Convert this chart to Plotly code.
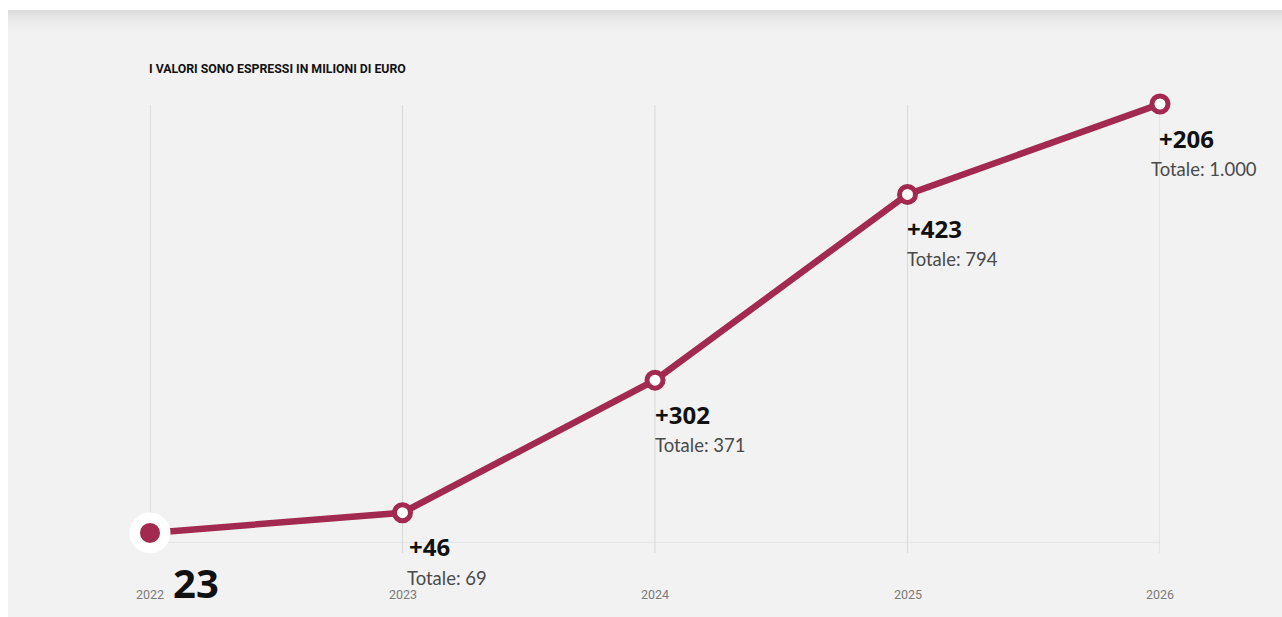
import plotly.graph_objects as go

years = [2022, 2023, 2024, 2025, 2026]
tick_labels = ["2022", "2023", "2024", "2025", "2026"]
totals = [23, 69, 371, 794, 1000]
deltas = ["+46", "+302", "+423", "+206"]
total_labels = ["Totale: 69", "Totale: 371", "Totale: 794", "Totale: 1.000"]
title_text = "I VALORI SONO ESPRESSI IN MILIONI DI EURO"

LINE = "#a2294f"
W, H = 1282, 617
L, R, T, B = 150, 122, 104, 74
PH = H - T - B

def py(pix):
    return (H - B - pix) / PH

def px(pix):
    return (pix - L) / (W - L - R)

fig = go.Figure()

fig.add_trace(go.Scatter(
    x=years, y=totals, mode="lines",
    line=dict(color=LINE, width=6.5), hoverinfo="skip", cliponaxis=False))
fig.add_trace(go.Scatter(
    x=years[1:], y=totals[1:], mode="markers",
    marker=dict(size=16, color="white", line=dict(color=LINE, width=5)),
    cliponaxis=False, hoverinfo="skip"))
fig.add_trace(go.Scatter(
    x=years[:1], y=totals[:1], mode="markers",
    marker=dict(size=41, color="white", line=dict(width=0)),
    cliponaxis=False, hoverinfo="skip"))
fig.add_trace(go.Scatter(
    x=years[:1], y=totals[:1], mode="markers",
    marker=dict(size=20, color=LINE, line=dict(width=0)),
    cliponaxis=False, hoverinfo="skip"))

shapes = []
# grey panel
shapes.append(dict(type="rect", xref="paper", yref="paper", layer="below",
                   x0=px(8), x1=px(W + 5), y0=py(H + 5), y1=py(10),
                   fillcolor="#f2f2f2", line=dict(width=0)))
# top shadow gradient
shade = ["#dcdcdc", "#e0e0e0", "#e3e3e3", "#e6e6e6", "#e8e8e8", "#eaeaea",
         "#ececec", "#eeeeee", "#efefef", "#f0f0f0", "#f1f1f1"]
for i, c in enumerate(shade):
    shapes.append(dict(type="rect", xref="paper", yref="paper", layer="below",
                       x0=px(8), x1=px(W + 5), y0=py(12 + 2 * i), y1=py(10 + 2 * i),
                       fillcolor=c, line=dict(width=0)))
# vertical gridlines
for i, yr in enumerate(years):
    shapes.append(dict(type="line", xref="x", yref="paper", layer="below",
                       x0=yr, x1=yr, y0=py(553), y1=py(105),
                       line=dict(color="#c8c8c8" if i == 0 else "#d9d9d9", width=1)))
# baseline
shapes.append(dict(type="line", xref="x", yref="y", layer="below",
                   x0=years[0], x1=years[-1], y0=0, y1=0,
                   line=dict(color="#d9d9d9", width=1)))

annotations = []
annotations.append(dict(text="<b>" + title_text + "</b>", xref="paper", yref="paper",
                        x=px(147), y=py(69), xanchor="left", yanchor="middle",
                        showarrow=False, font=dict(family="Roboto", size=12.3, color="#111111")))
for yr, lab in zip(years, tick_labels):
    annotations.append(dict(text=lab, x=yr, xref="x", yref="paper", y=py(594),
                            xanchor="center", yanchor="middle", showarrow=False,
                            font=dict(family="Roboto", size=12.5, color="#7a7a7a")))
annotations.append(dict(text="<b>%d</b>" % totals[0], x=years[0], y=totals[0],
                        xref="x", yref="y", xanchor="left", yanchor="middle",
                        xshift=21, yshift=-50, showarrow=False,
                        font=dict(family="Noto Sans", size=40, color="#111111")))
dx_delta = [4, -2, -3, -3]
dx_total = [2, -2, -3, -11]
for i in range(4):
    annotations.append(dict(text="<b>" + deltas[i] + "</b>", x=years[i + 1], y=totals[i + 1],
                            xref="x", yref="y", xanchor="left", yanchor="middle",
                            xshift=dx_delta[i], yshift=-34, showarrow=False,
                            font=dict(family="Noto Sans", size=24, color="#111111")))
    annotations.append(dict(text=total_labels[i], x=years[i + 1], y=totals[i + 1],
                            xref="x", yref="y", xanchor="left", yanchor="middle",
                            xshift=dx_total[i], yshift=-65, showarrow=False,
                            font=dict(family="Lato", size=18.5, color="#4a4a4a")))

fig.update_layout(
    width=W, height=H,
    margin=dict(l=L, r=R, t=T, b=B, pad=0),
    paper_bgcolor="white", plot_bgcolor="rgba(0,0,0,0)",
    showlegend=False,
    xaxis=dict(range=[years[0], years[-1]], visible=False, fixedrange=True),
    yaxis=dict(range=[0, 1000], visible=False, fixedrange=True),
    shapes=shapes, annotations=annotations,
)

fig.write_html("out.html", config={"displayModeBar": False})
